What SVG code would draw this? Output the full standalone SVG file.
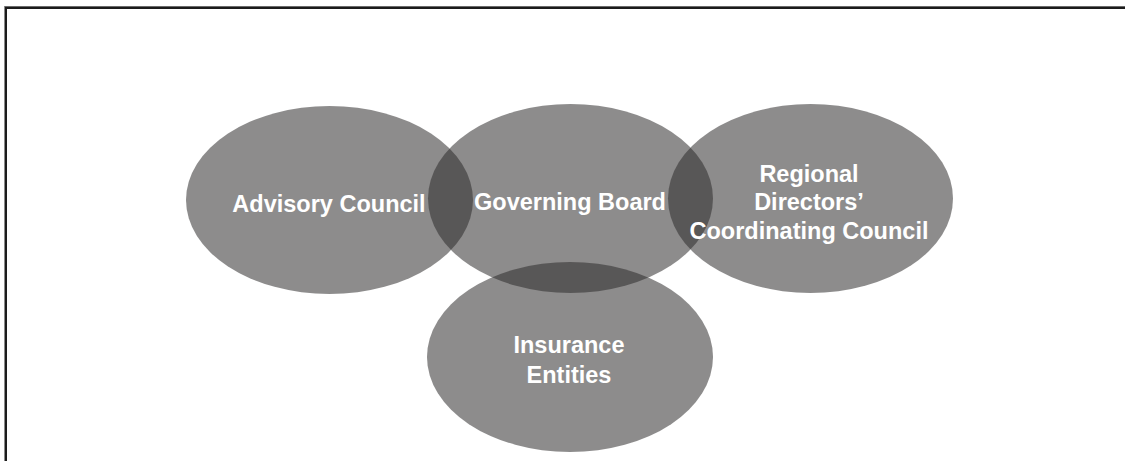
<svg xmlns="http://www.w3.org/2000/svg" width="1125" height="461" viewBox="0 0 1125 461">
<style>
.c{fill:#2d2a2b;fill-opacity:0.54}
.t{font-family:"Liberation Sans",Arial,sans-serif;font-weight:bold;font-size:23.5px;fill:#ffffff;text-anchor:middle}
</style>
<rect width="1125" height="461" fill="#ffffff"/>
<g id="frame">
<line x1="4" y1="6.5" x2="1125" y2="6.5" stroke="#6a6a6a" stroke-width="1"/>
<line x1="4.5" y1="6" x2="4.5" y2="461" stroke="#8a8a8a" stroke-width="1"/>
<line x1="5" y1="8" x2="1125" y2="8" stroke="#1c1c1c" stroke-width="2"/>
<line x1="6" y1="7" x2="6" y2="461" stroke="#1c1c1c" stroke-width="2"/>
</g>
<g id="connectors"></g>
<g id="advisory">
<ellipse class="c" cx="329.5" cy="200" rx="143.5" ry="94"/>
</g>
<g id="governing">
<ellipse class="c" cx="570.5" cy="198.5" rx="142.5" ry="94.5"/>
</g>
<g id="regional">
<ellipse class="c" cx="810.5" cy="198.5" rx="142.5" ry="94.5"/>
</g>
<g id="insurance">
<ellipse class="c" cx="570" cy="357" rx="143" ry="95"/>
</g>
<g id="labels">
<text class="t" x="329" y="211.5">Advisory Council</text>
<text class="t" x="570" y="210">Governing Board</text>
<text class="t" x="809" y="181.5">Regional</text>
<text class="t" x="809" y="210">Directors’</text>
<text class="t" x="809" y="238.5">Coordinating Council</text>
<text class="t" x="569" y="353">Insurance</text>
<text class="t" x="569" y="382.5">Entities</text>
</g>
</svg>
